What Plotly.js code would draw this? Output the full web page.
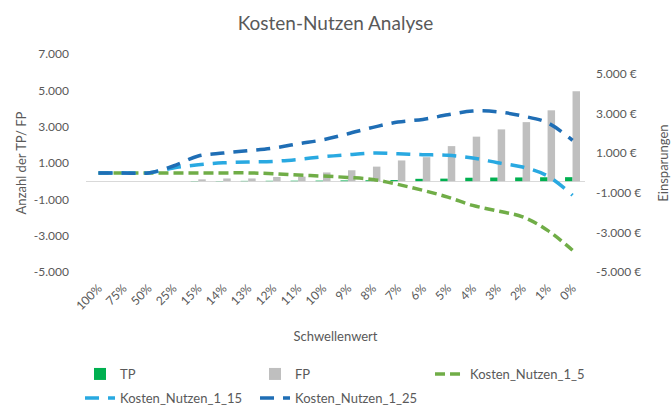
<!DOCTYPE html>
<html>
<head>
<meta charset="utf-8">
<script src="https://cdn.plot.ly/plotly-3.0.1.min.js"></script>
<style>html,body{margin:0;padding:0;background:#fff;}#chart{width:671px;height:408px;}</style>
</head>
<body>
<div id="chart"></div>
<script>
const categories = ["100%","75%","50%","25%","15%","14%","13%","12%","11%","10%","9%","8%","7%","6%","5%","4%","3%","2%","1%","0%"];
const tpValues = [0,0,0,0,10,10,15,20,25,30,40,50,60,130,140,190,200,205,215,220];
const fpValues = [0,0,0,0,100,150,150,230,250,480,600,800,1140,1320,1930,2450,2850,3250,3900,4950];
const kostenNutzen_1_5 = [0,0,0,0,0,0,0,-40,-110,-160,-230,-330,-580,-880,-1220,-1640,-1920,-2220,-2900,-3900];
const kostenNutzen_1_15 = [0,0,0,250,410,510,550,580,680,815,915,1000,970,920,885,750,515,295,-155,-1130];
const kostenNutzen_1_25 = [0,0,0,350,850,1000,1120,1250,1470,1670,1975,2300,2565,2700,2930,3120,3085,2870,2530,1640];
const leftTickVals = [-5000,-3000,-1000,1000,3000,5000,7000];
const leftTickText = ["-5.000","-3.000","-1.000","1.000","3.000","5.000","7.000"];
const rightTickVals = [-5000,-3000,-1000,1000,3000,5000];
const rightTickText = ["-5.000 €","-3.000 €","-1.000 €","1.000 €","3.000 €","5.000 €"];

const FONT = "Lato, 'Open Sans', sans-serif";
const GREY = "#595959";

const traces = [
  {type:"bar", name:"TP", x:categories, y:tpValues, marker:{color:"#00B050"}, legend:"legend"},
  {type:"bar", name:"FP", x:categories, y:fpValues, marker:{color:"#BFBFBF"}, legend:"legend"},
  {type:"scatter", mode:"lines", name:"Kosten_Nutzen_1_5", x:categories, y:kostenNutzen_1_5, yaxis:"y2",
   line:{color:"#70AD47", width:3.5, dash:"10px,5px", shape:"spline", smoothing:1}, legend:"legend"},
  {type:"scatter", mode:"lines", name:"Kosten_Nutzen_1_15", x:categories, y:kostenNutzen_1_15, yaxis:"y2",
   line:{color:"#29A9E1", width:3.5, dash:"14px,9px", shape:"spline", smoothing:1}, legend:"legend2"},
  {type:"scatter", mode:"lines", name:"Kosten_Nutzen_1_25", x:categories, y:kostenNutzen_1_25, yaxis:"y2",
   line:{color:"#1F6EB5", width:3.5, dash:"14px,9px", shape:"spline", smoothing:1}, legend:"legend2"}
];

const legendCommon = {orientation:"h", xanchor:"left", yanchor:"middle", entrywidth:130, entrywidthmode:"pixels",
  font:{family:FONT, size:13, color:GREY}, bgcolor:"rgba(0,0,0,0)", traceorder:"normal"};

const layout = {
  width:671, height:408,
  margin:{l:86, r:86, t:54, b:136, autoexpand:false},
  paper_bgcolor:"#fff", plot_bgcolor:"#fff",
  font:{family:FONT, color:GREY},
  title:{text:"Kosten-Nutzen Analyse", font:{family:FONT, size:19, color:GREY},
         x:0.5, xref:"paper", xanchor:"center", y:1-23/408, yref:"container", yanchor:"middle"},
  barmode:"group", bargap:0.4, bargroupgap:0,
  showlegend:true,
  xaxis:{type:"category", tickangle:-45, ticks:"", showline:false, showgrid:false, zeroline:false,
         tickfont:{family:FONT, size:12, color:GREY}, ticklabelstandoff:6,
         title:{text:"Schwellenwert", font:{family:FONT, size:13, color:GREY}, standoff:19}},
  yaxis:{range:[-5000,7000], tickvals:leftTickVals, ticktext:leftTickText, showgrid:false,
         zeroline:true, zerolinecolor:"#D9D9D9", zerolinewidth:1, showline:false, ticks:"",
         tickfont:{family:FONT, size:12, color:GREY}, ticklabelstandoff:16,
         title:{text:"Anzahl der TP/ FP", font:{family:FONT, size:13, color:GREY}, standoff:4}},
  yaxis2:{range:[-5000,6000], overlaying:"y", side:"right", tickvals:rightTickVals, ticktext:rightTickText,
          showgrid:false, zeroline:false, showline:false, ticks:"",
          tickfont:{family:FONT, size:12, color:GREY}, ticklabelstandoff:10,
          title:{text:"Einsparungen", font:{family:FONT, size:13, color:GREY}, standoff:32}},
  legend:Object.assign({}, legendCommon, {x:-0.012, y:(272-374)/218}),
  legend2:Object.assign({}, legendCommon, {x:-0.012, y:(272-398)/218})
};

Plotly.newPlot("chart", traces, layout, {displayModeBar:false, staticPlot:true});
</script>
</body>
</html>
